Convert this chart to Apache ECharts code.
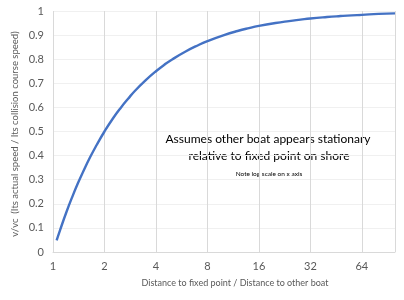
<!DOCTYPE html>
<html><head><meta charset="utf-8">
<script src="https://cdn.jsdelivr.net/npm/echarts@6/dist/echarts.min.js"></script>
<style>html,body{margin:0;padding:0;background:#fff}#c{width:404px;height:300px}</style>
</head><body><div id="c"></div>
<script>
const distances = [1.05, 1.1, 1.2, 1.3, 1.4, 1.5, 1.65, 1.8, 2, 2.25, 2.5, 2.75, 3, 3.5, 4, 4.5, 5, 6, 7, 8, 10, 12, 14, 16, 20, 24, 28, 32, 40, 48, 56, 64, 80, 100];
const ratios    = [0.048, 0.091, 0.167, 0.231, 0.286, 0.333, 0.394, 0.444, 0.5, 0.556, 0.6, 0.636, 0.667, 0.714, 0.75, 0.778, 0.8, 0.833, 0.857, 0.875, 0.9, 0.917, 0.929, 0.938, 0.95, 0.958, 0.964, 0.969, 0.975, 0.979, 0.982, 0.984, 0.988, 0.99];
const yTicks = [0, 0.1, 0.2, 0.3, 0.4, 0.5, 0.6, 0.7, 0.8, 0.9, 1];
const FONT = 'Lato';
const chart = echarts.init(document.getElementById('c'));
chart.setOption({
  animation: false,
  textStyle: {fontFamily: FONT},
  grid: {left: 53, right: 9, top: 11, bottom: 48},
  xAxis: {
    type: 'log', logBase: 2, min: 1, max: 100,
    axisLine: {show: true, lineStyle: {color: '#d9d9d9'}},
    axisTick: {show: false},
    axisLabel: {color: '#595959', fontSize: 11, margin: 9, showMaxLabel: false, fontFamily: FONT},
    splitLine: {show: true, lineStyle: {color: '#d9d9d9'}},
    minorSplitLine: {show: false}
  },
  yAxis: {
    type: 'value', min: 0, max: 1, interval: 0.1,
    axisLine: {show: false}, axisTick: {show: false},
    axisLabel: {color: '#595959', fontSize: 11, margin: 9, fontFamily: FONT,
      formatter: v => String(Math.round(v * 10) / 10)},
    splitLine: {show: true, lineStyle: {color: '#f0f0f0'}}
  },
  series: [{
    type: 'line', data: distances.map((d, i) => [d, ratios[i]]),
    showSymbol: false, smooth: true,
    lineStyle: {color: '#4472C4', width: 2.4}
  }],
  graphic: [
    {type: 'text', x: 15, y: 134, rotation: Math.PI / 2, style: {
      text: 'v/vc  (Its actual speed / Its collision course speed)', fill: '#595959',
      font: '9.5px ' + FONT, align: 'center', verticalAlign: 'middle'}},
    {type: 'text', x: 235, y: 283, style: {
      text: 'Distance to fixed point / Distance to other boat', fill: '#595959',
      font: '9px ' + FONT, align: 'center', verticalAlign: 'middle'}},
    {type: 'text', x: 268, y: 139, style: {
      text: 'Assumes other boat appears stationary', fill: '#000',
      font: '12px ' + FONT, align: 'center', verticalAlign: 'middle'}},
    {type: 'text', x: 269, y: 156, style: {
      text: 'relative to fixed point on shore', fill: '#000',
      font: '12px ' + FONT, align: 'center', verticalAlign: 'middle'}},
    {type: 'text', x: 269, y: 174, style: {
      text: 'Note log scale on x axis', fill: '#000',
      font: '6.5px ' + FONT, align: 'center', verticalAlign: 'middle'}}
  ]
});
</script></body></html>
